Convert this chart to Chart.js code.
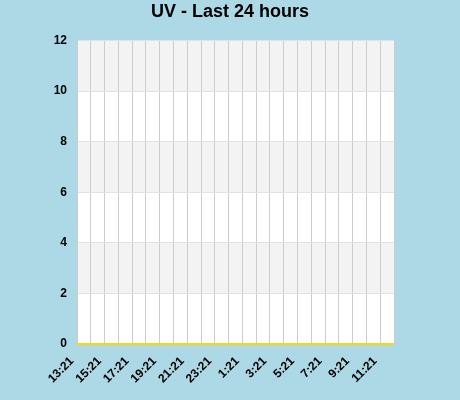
<!DOCTYPE html>
<html>
<head>
<meta charset="utf-8">
<script src="https://cdn.jsdelivr.net/npm/chart.js@4/dist/chart.umd.min.js"></script>
<style>
    html, body { margin: 0; padding: 0; background: #add8e6; }
    #uv-chart { display: block; }
</style>
</head>
<body>
<canvas id="uv-chart" width="460" height="400"></canvas>
<script>
// hourly readings, last 24 hours
const hours = ['13:21', '14:21', '15:21', '16:21', '17:21', '18:21', '19:21', '20:21',
    '21:21', '22:21', '23:21', '0:21', '1:21', '2:21', '3:21', '4:21',
    '5:21', '6:21', '7:21', '8:21', '9:21', '10:21', '11:21', '12:21'];
const uvValues = [0, 0, 0, 0, 0, 0, 0, 0, 0, 0, 0, 0, 0, 0, 0, 0, 0, 0, 0, 0, 0, 0, 0, 0];
const yTicks = [0, 2, 4, 6, 8, 10, 12];

// white plot area with every other band shaded, drawn under the grid
const bandPlugin = {
    id: 'bands',
    beforeDraw(chart) {
        const ctx = chart.ctx;
        const area = chart.chartArea;
        const y = chart.scales.y;
        ctx.save();
        ctx.fillStyle = '#ffffff';
        ctx.fillRect(area.left, area.top, area.right - area.left, area.bottom - area.top);
        for (let i = 0; i < yTicks.length - 1; i++) {
            if (i % 2 === 0) continue;
            const top = y.getPixelForValue(yTicks[i + 1]);
            const bottom = y.getPixelForValue(yTicks[i]);
            ctx.fillStyle = '#f3f3f3';
            ctx.fillRect(area.left, top, area.right - area.left, bottom - top);
        }
        ctx.restore();
    }
};

const labelFont = { family: 'Liberation Sans, Arial, sans-serif', size: 12, weight: 'bold' };

const el = document.getElementById('uv-chart');
const uvChart = new Chart(el, {
    type: 'line',
    data: {
        labels: hours,
        datasets: [{
            label: 'UV',
            data: uvValues,
            borderColor: '#ffd700',
            borderWidth: 2,
            pointRadius: 0,
            fill: false,
            tension: 0,
            clip: false
        }]
    },
    options: {
        responsive: false,
        animation: false,
        layout: {
            padding: { left: 0, right: 0, top: 0, bottom: 4 }
        },
        plugins: {
            legend: { display: false },
            tooltip: { enabled: false },
            title: {
                display: true,
                text: 'UV - Last 24 hours',
                color: '#000',
                font: { family: 'Liberation Sans, Arial, sans-serif', size: 18, weight: 'bold' },
                padding: { top: 1, bottom: 18 }
            }
        },
        scales: {
            x: {
                offset: false,
                grid: { color: '#cccccc', drawTicks: false },
                border: { color: '#cccccc' },
                ticks: {
                    autoSkip: false,
                    minRotation: 45,
                    maxRotation: 45,
                    padding: 10,
                    labelOffset: -5,
                    color: '#000',
                    font: labelFont,
                    callback: function (val, i) {
                        return i % 2 === 0 ? hours[i] : '';
                    }
                }
            },
            y: {
                min: 0,
                max: 12,
                grid: { color: '#e2e2e2', drawTicks: false },
                border: { color: '#cccccc' },
                ticks: {
                    stepSize: 2,
                    padding: 10,
                    color: '#000',
                    font: labelFont
                },
                afterFit: function (scale) { scale.width = 77; }
            },
            // empty axis that only keeps the right margin
            spacer: {
                type: 'linear',
                position: 'right',
                grid: { display: false, drawTicks: false },
                border: { display: false },
                ticks: { display: false },
                afterFit: function (scale) { scale.width = 66; }
            }
        }
    },
    plugins: [bandPlugin]
});
</script>
</body>
</html>
